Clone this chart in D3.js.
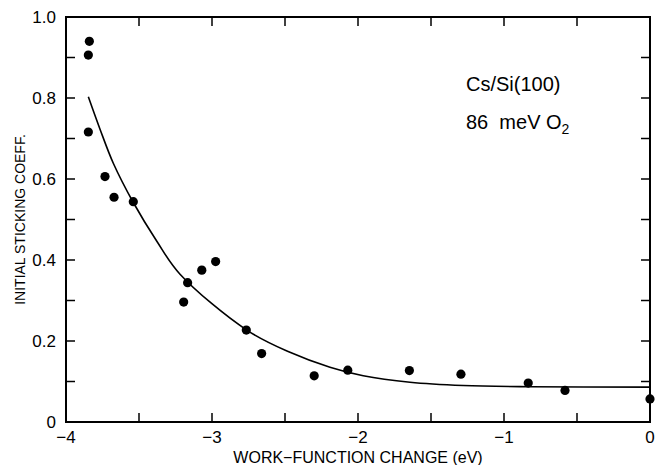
<!DOCTYPE html>
<html>
<head>
<meta charset="utf-8">
<script src="https://cdn.jsdelivr.net/npm/d3@7"></script>
<style>
  body { margin: 0; background: #fff; }
  text { font-family: "Liberation Sans", Arial, sans-serif; fill: #000; }
</style>
</head>
<body>
<svg width="655" height="465"></svg>
<script>
// measured points (work-function change, sticking coeff.)
var dataX = [-3.84, -3.847, -3.847, -3.733, -3.671, -3.539, -3.194, -3.167, -3.07, -2.975,
             -2.765, -2.66, -2.30, -2.07, -1.648, -1.295, -0.834, -0.582, 0];
var dataY = [0.94, 0.906, 0.716, 0.606, 0.555, 0.544, 0.296, 0.344, 0.375, 0.396,
             0.227, 0.169, 0.114, 0.128, 0.127, 0.118, 0.096, 0.078, 0.057];

// fitted curve
var fitX = [-3.847, -3.767, -3.676, -3.539, -3.379, -3.219, -2.762, -2.466,
            -2.192, -1.964, -1.644, -1.279, -0.822, 0];
var fitY = [0.803, 0.723, 0.639, 0.542, 0.447, 0.365, 0.227, 0.172,
            0.135, 0.114, 0.098, 0.090, 0.087, 0.086];

var xTicks = [-4, -3.5, -3, -2.5, -2, -1.5, -1, -0.5, 0];
var xLabels = [-4, -3, -2, -1, 0];
var yTicks = [0, 0.1, 0.2, 0.3, 0.4, 0.5, 0.6, 0.7, 0.8, 0.9, 1.0];
var yLabels = [0, 0.2, 0.4, 0.6, 0.8, 1.0];

var svg = d3.select("svg"),
    mLeft = 66, mRight = 650, mTop = 17, mBottom = 422,
    tickLen = 9;

var x = d3.scaleLinear().domain([-4, 0]).range([mLeft, mRight]),
    y = d3.scaleLinear().domain([0, 1]).range([mBottom, mTop]);

var fmtY = function(d) { return d === 0 ? "0" : d3.format(".1f")(d); };
var fmtX = function(d) { return d < 0 ? "\u2212" + Math.abs(d) : String(d); };

// frame
svg.append("rect")
    .attr("x", mLeft).attr("y", mTop)
    .attr("width", mRight - mLeft).attr("height", mBottom - mTop)
    .attr("fill", "none").attr("stroke", "#000").attr("stroke-width", 2);

// inward ticks on all four sides
var g = svg.append("g").attr("stroke", "#000").attr("stroke-width", 1.5);
xTicks.forEach(function(d) {
  g.append("line").attr("x1", x(d)).attr("x2", x(d)).attr("y1", mBottom).attr("y2", mBottom - tickLen);
  g.append("line").attr("x1", x(d)).attr("x2", x(d)).attr("y1", mTop).attr("y2", mTop + tickLen);
});
yTicks.forEach(function(d) {
  g.append("line").attr("x1", mLeft).attr("x2", mLeft + tickLen).attr("y1", y(d)).attr("y2", y(d));
  g.append("line").attr("x1", mRight).attr("x2", mRight - tickLen).attr("y1", y(d)).attr("y2", y(d));
});

// tick labels
svg.selectAll(".xl").data(xLabels).enter().append("text")
    .attr("x", function(d) { return x(d); })
    .attr("y", mBottom + 21)
    .attr("text-anchor", "middle")
    .style("font-size", "17px")
    .text(fmtX);

svg.selectAll(".yl").data(yLabels).enter().append("text")
    .attr("x", mLeft - 10)
    .attr("y", function(d) { return y(d) + 6; })
    .attr("text-anchor", "end")
    .style("font-size", "17px")
    .text(fmtY);

// axis titles
svg.append("text")
    .attr("x", (mLeft + mRight) / 2).attr("y", 463)
    .attr("text-anchor", "middle")
    .style("font-size", "16px")
    .text("WORK\u2212FUNCTION CHANGE (eV)");

svg.append("text")
    .attr("transform", "translate(25," + ((mTop + mBottom) / 2) + ") rotate(-90)")
    .attr("text-anchor", "middle")
    .style("font-size", "14px")
    .text("INITIAL STICKING COEFF.");

// annotations
svg.append("text").attr("x", 466).attr("y", 91).style("font-size", "20px").text("Cs/Si(100)");
var t2 = svg.append("text").attr("x", 466).attr("y", 129).style("font-size", "20px");
t2.append("tspan").text("86\u00a0\u00a0meV O");
t2.append("tspan").attr("dy", 5).style("font-size", "14px").text("2");

// fit curve
var line = d3.line()
    .x(function(d, i) { return x(fitX[i]); })
    .y(function(d, i) { return y(fitY[i]); })
    .curve(d3.curveCatmullRom.alpha(0.5));

svg.append("path")
    .datum(fitX)
    .attr("fill", "none")
    .attr("stroke", "#000")
    .attr("stroke-width", 1.6)
    .attr("d", line);

// data points
svg.selectAll(".pt").data(dataX).enter().append("circle")
    .attr("cx", function(d) { return x(d); })
    .attr("cy", function(d, i) { return y(dataY[i]); })
    .attr("r", 4.6)
    .attr("fill", "#000");
</script>
</body>
</html>
